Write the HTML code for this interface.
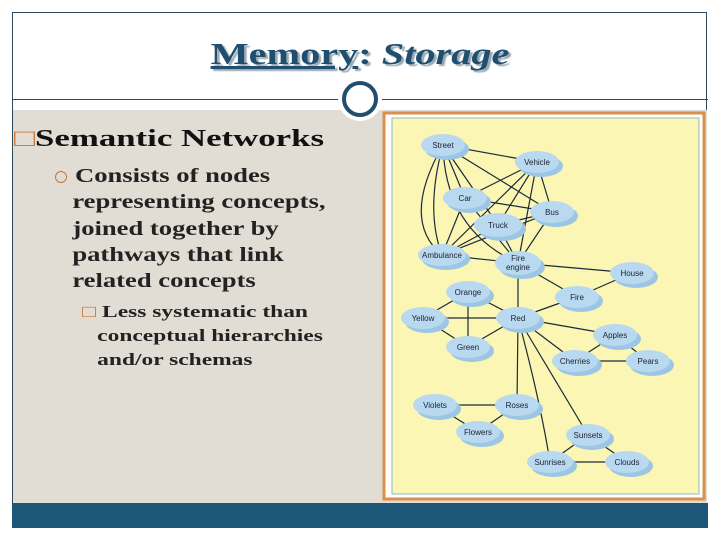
<!DOCTYPE html>
<html><head><style>
body{margin:0;width:720px;height:540px;background:#fff;position:relative;overflow:hidden;font-family:"Liberation Serif",serif}
.frame{position:absolute;left:12px;top:12px;width:695px;height:516px;border:1px solid #2c4a5e;box-sizing:border-box}
.content{position:absolute;left:13px;top:110px;width:694px;height:393px;background:#e1ddd4}
.bar{position:absolute;left:12px;top:503px;width:696px;height:25px;background:#1e5878}
.hline{position:absolute;left:12px;top:99px;width:696px;height:1px;background:#2c4a5e}
.title{position:absolute;left:0;width:720px;top:36px;text-align:center;font-size:31px;font-weight:bold;color:#1f4e6e;text-shadow:2px 2px 1px #9aa9b4;transform:scaleX(1.3);transform-origin:360px 0}
.t{position:absolute;font-weight:bold;color:#111;white-space:nowrap;transform-origin:0 0}
</style></head><body>
<div class="frame"></div>
<div class="content"></div>
<div class="hline"></div>
<div class="bar"></div>
<div class="title"><span style="text-decoration:underline">Memory</span>: <i>Storage</i></div>
<svg style="position:absolute;left:0;top:0" width="720" height="540">
<circle cx="360" cy="99" r="22" fill="#fff"/>
<circle cx="360" cy="99" r="16" fill="#fff" stroke="#1f4e6e" stroke-width="4"/>
</svg>
<div class="t" style="left:14px;top:126px;font-size:24px;transform:scaleX(1.45)"><span style="font-weight:normal;color:#c87533">□</span>Semantic Networks</div>
<span style="position:absolute;left:55px;top:171px;width:10px;height:10px;border:1.5px solid #c87533;border-radius:50%"></span>
<div class="t" style="left:75px;top:163px;font-size:20px;color:#222;line-height:26.3px;transform:scaleX(1.33)">Consists of nodes<br><span style="margin-left:-2px">representing concepts,</span><br><span style="margin-left:-2px">joined together by</span><br><span style="margin-left:-2px">pathways that link</span><br><span style="margin-left:-2px">related concepts</span></div>
<div class="t" style="left:82px;top:300px;font-size:17px;line-height:24px;color:#222;transform:scaleX(1.38)"><span style="color:#c87533;font-weight:normal">□</span> Less systematic than<br><span style="margin-left:11px">conceptual hierarchies</span><br><span style="margin-left:11px">and/or schemas</span></div>
<svg style="position:absolute;left:0;top:0" width="720" height="540" font-family="Liberation Sans,sans-serif" font-size="8">
<rect x="384" y="113" width="320" height="386" fill="#fff" stroke="#d9904a" stroke-width="3"/>
<rect x="392" y="118" width="307" height="376" fill="#fbf6b4" stroke="#8fb7c6" stroke-width="1"/>
<g stroke="#1a2a3a" stroke-width="1.2" fill="none">
<path d="M443 145L537 162M443 145L465 198M443 145L498 225M443 145L552 212M443 145Q425 210 442 255M443 145Q445 230 518 263M537 162L465 198M537 162L498 225M537 162L552 212M537 162L442 255M537 162L518 263M465 198L552 212M465 198L442 255M465 198L518 263M498 225L442 255M498 225L518 263M552 212L442 255M552 212L518 263M552 212L498 225M442 255L518 263M443 145Q400 220 442 255M518 263L632 273M518 263L577 297M577 297L632 273M518 263L518 318M518 318L577 297M518 318L468 292M518 318L423 318M518 318L468 347M468 292L423 318M468 292L468 347M423 318L468 347M518 318L615 335M518 318L575 361M615 335L575 361M615 335L648 361M575 361L648 361M518 318L517 405M518 318L588 435M518 318Q540 400 550 462M435 405L517 405M435 405L478 432M478 432L517 405M588 435L550 462M588 435L627 462M550 462L627 462"/>
</g>
<g fill="#9cc6e4">
<ellipse cx="447" cy="149" rx="22" ry="11"/><ellipse cx="541" cy="166" rx="22" ry="11"/><ellipse cx="469" cy="202" rx="22" ry="11"/><ellipse cx="556" cy="216" rx="22" ry="11"/><ellipse cx="502" cy="229" rx="24" ry="12"/><ellipse cx="446" cy="259" rx="24" ry="11"/><ellipse cx="522" cy="267" rx="23" ry="12"/><ellipse cx="636" cy="277" rx="22" ry="11"/><ellipse cx="472" cy="296" rx="22" ry="11"/><ellipse cx="581" cy="301" rx="22" ry="11"/><ellipse cx="427" cy="322" rx="22" ry="11"/><ellipse cx="522" cy="322" rx="22" ry="11"/><ellipse cx="472" cy="351" rx="22" ry="11"/><ellipse cx="619" cy="339" rx="22" ry="11"/><ellipse cx="579" cy="365" rx="23" ry="11"/><ellipse cx="652" cy="365" rx="22" ry="11"/><ellipse cx="439" cy="409" rx="22" ry="11"/><ellipse cx="521" cy="409" rx="22" ry="11"/><ellipse cx="482" cy="436" rx="22" ry="11"/><ellipse cx="592" cy="439" rx="22" ry="11"/><ellipse cx="554" cy="466" rx="23" ry="11"/><ellipse cx="631" cy="466" rx="22" ry="11"/>
</g>
<g fill="#b8d9ef">
<ellipse cx="443" cy="145" rx="22" ry="11"/><ellipse cx="537" cy="162" rx="22" ry="11"/><ellipse cx="465" cy="198" rx="22" ry="11"/><ellipse cx="552" cy="212" rx="22" ry="11"/><ellipse cx="498" cy="225" rx="24" ry="12"/><ellipse cx="442" cy="255" rx="24" ry="11"/><ellipse cx="518" cy="263" rx="23" ry="12"/><ellipse cx="632" cy="273" rx="22" ry="11"/><ellipse cx="468" cy="292" rx="22" ry="11"/><ellipse cx="577" cy="297" rx="22" ry="11"/><ellipse cx="423" cy="318" rx="22" ry="11"/><ellipse cx="518" cy="318" rx="22" ry="11"/><ellipse cx="468" cy="347" rx="22" ry="11"/><ellipse cx="615" cy="335" rx="22" ry="11"/><ellipse cx="575" cy="361" rx="23" ry="11"/><ellipse cx="648" cy="361" rx="22" ry="11"/><ellipse cx="435" cy="405" rx="22" ry="11"/><ellipse cx="517" cy="405" rx="22" ry="11"/><ellipse cx="478" cy="432" rx="22" ry="11"/><ellipse cx="588" cy="435" rx="22" ry="11"/><ellipse cx="550" cy="462" rx="23" ry="11"/><ellipse cx="627" cy="462" rx="22" ry="11"/>
</g>
<g fill="#223" text-anchor="middle">
<text x="443" y="148">Street</text><text x="537" y="165">Vehicle</text><text x="465" y="201">Car</text><text x="552" y="215">Bus</text><text x="498" y="228">Truck</text><text x="442" y="258">Ambulance</text><text x="518" y="261">Fire</text><text x="518" y="270">engine</text><text x="632" y="276">House</text><text x="468" y="295">Orange</text><text x="577" y="300">Fire</text><text x="423" y="321">Yellow</text><text x="518" y="321">Red</text><text x="468" y="350">Green</text><text x="615" y="338">Apples</text><text x="575" y="364">Cherries</text><text x="648" y="364">Pears</text><text x="435" y="408">Violets</text><text x="517" y="408">Roses</text><text x="478" y="435">Flowers</text><text x="588" y="438">Sunsets</text><text x="550" y="465">Sunrises</text><text x="627" y="465">Clouds</text>
</g>
</svg>
</body></html>
